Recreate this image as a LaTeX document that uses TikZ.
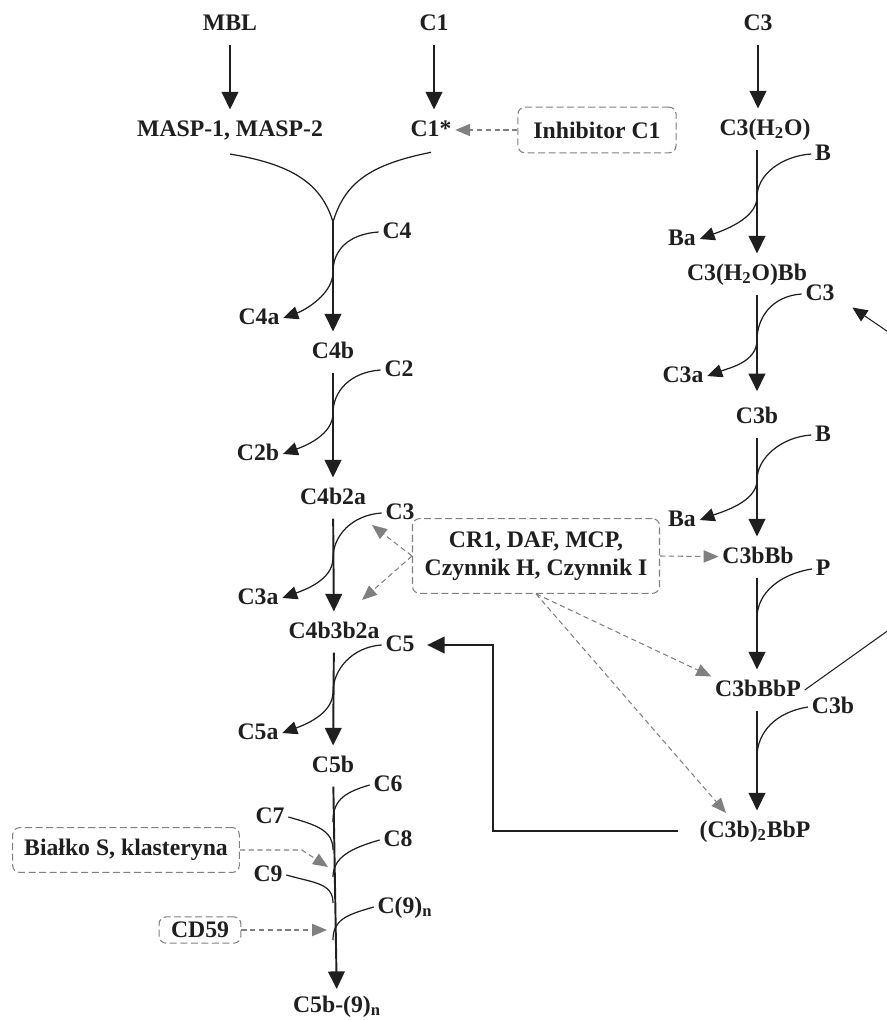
\documentclass[tikz,border=0pt]{standalone}
\usepackage{fontspec}
\setmainfont{Liberation Serif}
\usetikzlibrary{arrows.meta}

\tikzset{
  txt/.style={font=\bfseries\fontsize{13.5}{16}\selectfont, text=black!88},
  mol/.style={txt, inner sep=2pt, text height=9pt, text depth=2pt},
  inhbox/.style={txt, draw=gray, line width=0.6pt, dash pattern=on 4pt off 2pt,
    rounded corners=4pt, inner sep=0pt, align=center},
  mainarr/.style={black!88, line width=1.1pt, shorten <=4pt, shorten >=4pt,
    -{Triangle[length=10pt,width=9.5pt]}},
  side/.style={black!88, line width=0.7pt},
  sidearr/.style={side, -{Triangle[length=8.5pt,width=7.5pt]}},
  inharr/.style={gray, line width=0.6pt, dash pattern=on 3pt off 2pt,
    -{Triangle[length=8.5pt,width=7pt]}},
}

\begin{document}
\begin{tikzpicture}[x=0.02cm, y=-0.02cm]
  \useasboundingbox (0,0) rectangle (886,1020);
  % starting points
  \node[mol] (mbl) at (230,24) {MBL};
  \node[mol] (c1) at (434,24) {C1};
  \node[mol] (c3top) at (758,24) {C3};
  \node[mol] (masp) at (230,130) {MASP-1, MASP-2};
  \node[mol] (c1s) at (431,130) {C1*};
  \node[inhbox, minimum width=90pt, minimum height=26pt] (inhc1) at (597,130) {Inhibitor C1};
  \draw[mainarr] (mbl) -- (masp);
  \draw[mainarr] (c1) -- (c1 |- c1s.north);
  \draw[inharr] (inhc1) -- (c1s);
  % both arms join into C4 cleavage
  \coordinate (join) at (333,222);
  \draw[side] ([yshift=-6pt]masp.south) .. controls +(60,10) and +(-12,-40) .. (join);
  \draw[side] ([yshift=-5pt]c1s.south) .. controls +(-60,12) and +(12,-40) .. (join);

  % left column
  \node[mol] (c4) at (397,232) {C4};
  \node[mol] (c4a) at (259,318) {C4a};
  \node[mol] (c4b) at (333,352) {C4b};
  \node[mol] (c2) at (399,370) {C2};
  \node[mol] (c2b) at (258,454) {C2b};
  \node[mol] (c4b2a) at (333,498) {C4b2a};
  \node[mol] (c3l) at (400,513) {C3};
  \node[mol] (c3al) at (258,598) {C3a};
  \node[mol] (c4b3b2a) at (334,632) {C4b3b2a};
  \node[mol] (c5) at (400,645) {C5};
  \node[mol] (c5a) at (258,733) {C5a};
  \node[mol] (c5b) at (333,766) {C5b};
  \node[mol] (c6) at (388,785) {C6};
  \node[mol] (c7) at (270,817) {C7};
  \node[mol] (c8) at (398,840) {C8};
  \node[mol] (c9) at (268,875) {C9};
  \node[mol] (c9n) at (405,907) {C(9)\textsubscript{n}};
  \node[mol] (c5b9n) at (337,1006) {C5b-(9)\textsubscript{n}};
  \draw[mainarr, shorten <=0pt] (join) -- (c4b);
  \draw[mainarr] (c4b) -- (c4b2a);
  \draw[mainarr] (c4b2a) -- (c4b3b2a);
  \draw[mainarr] (c4b3b2a) -- (c5b);
  \draw[mainarr, shorten >=2pt] (c5b) -- (c5b9n);
  \foreach \src/\dst/\y in {c4/c4a/272, c2/c2b/413, c3l/c3al/558, c5/c5a/692}
    \draw[sidearr] (\src.west) .. controls +(-30,2) and +(0,-22) .. (333,\y)
      .. controls +(0,22) and +(22,-8) .. (\dst.east);
  \foreach \src/\y in {c6/822, c8/877, c9n/940}
    \draw[side] (\src.west) .. controls +(-28,8) and +(0,-20) .. (333,\y);
  \foreach \src/\y in {c7/850, c9/903}
    \draw[side] (\src.east) .. controls +(28,8) and +(0,-20) .. (333,\y);

  % right column
  \node[mol] (c3h2o) at (765,129) {C3(H\textsubscript{2}O)};
  \node[mol] (b1) at (823,154) {B};
  \node[mol] (ba1) at (682,239) {Ba};
  \node[mol] (c3h2obb) at (747,274) {C3(H\textsubscript{2}O)Bb};
  \node[mol] (c3r) at (820,294) {C3};
  \node[mol] (c3ar) at (683,376) {C3a};
  \node[mol] (c3b) at (757,417) {C3b};
  \node[mol] (b2) at (823,435) {B};
  \node[mol] (ba2) at (682,520) {Ba};
  \node[mol] (c3bbb) at (758,557) {C3bBb};
  \node[mol] (p) at (823,569) {P};
  \node[mol] (c3bbbp) at (758,690) {C3bBbP};
  \node[mol] (c3br) at (833,707) {C3b};
  \node[mol] (c3b2bbp) at (755,831) {(C3b)\textsubscript{2}BbP};
  \draw[mainarr] (c3top) -- (c3top |- c3h2o.north);
  \draw[mainarr] (c3h2o.south -| c3b) -- (c3h2obb.north -| c3b);
  \draw[mainarr, shorten >=7pt] (c3h2obb.south -| c3b) -- (c3b);
  \draw[mainarr] (c3b) -- (c3b |- c3bbb.north);
  \draw[mainarr] (c3b |- c3bbb.south) -- (c3b |- c3bbbp.north);
  \draw[mainarr] (c3b |- c3bbbp.south) -- (c3b |- c3b2bbp.north);
  \foreach \src/\dst/\y in {b1/ba1/197, c3r/c3ar/340, b2/ba2/480}
    \draw[sidearr] (\src.west) .. controls +(-30,2) and +(0,-22) .. (757,\y)
      .. controls +(0,22) and +(22,-8) .. (\dst.east);
  \foreach \src/\y in {p/618, c3br/757}
    \draw[side] (\src.west) .. controls +(-32,5) and +(0,-25) .. (757,\y);

  % amplification loops
  \coordinate (fbx) at (493,0);
  \draw[mainarr, shorten <=10pt, shorten >=5pt] (c3b2bbp.west) -- (c3b2bbp.west -| fbx) |- (c5.east);
  \draw[sidearr, line width=0.6pt] (c3bbbp.east) -- (900,622) -- (900,340)
    -- ([xshift=8pt]c3r.south east);

  % regulators
  \node[inhbox, minimum width=140.6pt, minimum height=42.5pt] (cr) at (536,556)
    {CR1, DAF, MCP,\\Czynnik H, Czynnik I};
  \node[inhbox, minimum width=129pt, minimum height=25.5pt] (bialko) at (126,850)
    {Białko S, klasteryna};
  \node[inhbox, minimum width=46.5pt, minimum height=15pt] (cd59) at (200,930) {CD59};
  \coordinate (t3) at (372,525);
  \coordinate (t4) at (362,600);
  \coordinate (t6) at (726,813);
  \coordinate (t7) at (328,867);
  \coordinate (t8) at (327,930);
  \draw[inharr] (cr.west) -- (t3);
  \draw[inharr] (cr.west) -- (t4);
  \draw[inharr] (cr.east) -- (c3bbb);
  \draw[inharr] (cr.south) -- (c3bbbp.north west);
  \draw[inharr] (cr.south) -- (t6);
  \draw[inharr] (bialko.east) -- ++(62,0) -- (t7);
  \draw[inharr] (cd59.east) -- (t8);
\end{tikzpicture}
\end{document}
